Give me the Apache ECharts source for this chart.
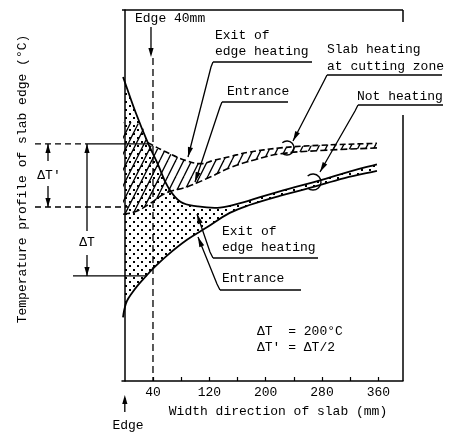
<!DOCTYPE html>
<html><head><meta charset="utf-8">
<script src="https://cdn.jsdelivr.net/npm/echarts@6/dist/echarts.min.js"></script>
<style>html,body{margin:0;padding:0;background:#fff}#c{width:456px;height:432px}</style>
</head><body><div id="c"></div>
<script>
const FONT = '13px "Liberation Mono", "DejaVu Sans Mono", monospace';
// axis ticks / labels (mm)
const xTickValues = [40, 80, 120, 160, 200, 240, 280, 320, 360];
const xLabelValues = [40, 120, 200, 280, 360];
// Not heating: entrance and exit of edge heating (relative °C)
const entranceNoHeat = [[-2.6,97],[-0.45,110],[3.1,122],[10.2,134],[18.7,146],[28.7,158],[40,171],[59.9,191],[88.3,215],[116.6,234],[149,256],[177,268],[220,282],[262.6,294],[312,309],[358,320]];
const exitNoHeat = [[-2.5,463],[15,410],[32.6,363],[47,330],[61,296],[79,273],[103,266],[135,264],[168,272],[192,280],[234,293],[276,305],[319,319],[358,330]];
// Slab heating at cutting zone: exit and entrance
const exitSlabHeat = [[-2.5,394],[22.7,390],[32.6,363],[58,349],[86,336],[108,331],[126,336],[150,342],[174,348],[221,355],[278,359],[358,362]];
const entranceSlabHeat = [[-2.5,254],[15.6,258],[34,269],[58,286],[89,296],[122,311],[150,325],[185,337],[221,346],[278,351],[358,355]];
// ΔT reference levels: top, ΔT' bottom, ΔT bottom
const deltaLevels = [361, 265, 160];
const edgeMarkMm = 40;

function makePattern(kind) {
  const c = document.createElement('canvas');
  if (kind === 'dots') {
    c.width = 8; c.height = 8;
    const g = c.getContext('2d');
    g.fillStyle = '#000';
    g.fillRect(1, 1, 2, 2);
    g.fillRect(5, 5, 2, 2);
  } else {
    c.width = 8; c.height = 16;
    const g = c.getContext('2d');
    g.strokeStyle = '#000'; g.lineWidth = 1.3;
    for (const off of [-8, 0, 8]) {
      g.beginPath(); g.moveTo(off, 16); g.lineTo(off + 8, 0); g.stroke();
    }
  }
  return { image: c, repeat: 'repeat' };
}
const dotPattern = makePattern('dots');
const hatchPattern = makePattern('hatch');

function splinePath(pts, s) {
  const n = pts.length;
  const cps = pts.map((p, i) => {
    const prev = pts[Math.max(i - 1, 0)], next = pts[Math.min(i + 1, n - 1)];
    const vx = next[0] - prev[0], vy = next[1] - prev[1];
    const d0 = Math.hypot(p[0] - prev[0], p[1] - prev[1]);
    const d1 = Math.hypot(next[0] - p[0], next[1] - p[1]);
    const sum = (d0 + d1) || 1;
    return { inp: [p[0] - vx * s * d0 / sum, p[1] - vy * s * d0 / sum],
             out: [p[0] + vx * s * d1 / sum, p[1] + vy * s * d1 / sum] };
  });
  let d = 'M' + pts[0][0] + ' ' + pts[0][1];
  for (let i = 1; i < n; i++) {
    const a = cps[i - 1].out, b = cps[i].inp, p = pts[i];
    d += ' C' + a[0] + ' ' + a[1] + ' ' + b[0] + ' ' + b[1] + ' ' + p[0] + ' ' + p[1];
  }
  return d;
}
const S = 0.4;
function bandItem(lower, upper, fill, lowerStyle, upperStyle, upperStart) {
  return function (params, api) {
    const a = lower.map(p => api.coord(p));
    const b = upper.map(p => api.coord(p));
    const area = splinePath(a, S) + ' ' + splinePath(b.slice().reverse(), S).replace('M', 'L') + ' Z';
    return { type: 'group', children: [
      { type: 'path', shape: { pathData: area }, style: { fill: fill, stroke: 'none' } },
      { type: 'path', shape: { pathData: splinePath(a, S) }, style: Object.assign({ fill: 'none', stroke: '#000' }, lowerStyle) },
      { type: 'path', shape: { pathData: splinePath(b.slice(upperStart || 0), S) }, style: Object.assign({ fill: 'none', stroke: '#000' }, upperStyle) }
    ]};
  };
}
// x (mm) where a curve crosses a given level (linear between read points)
function crossX(curve, level) {
  for (let i = 1; i < curve.length; i++) {
    const [x1, y1] = curve[i - 1], [x2, y2] = curve[i];
    if ((y1 - level) * (y2 - level) <= 0 && y1 !== y2) return x1 + (level - y1) * (x2 - x1) / (y2 - y1);
  }
  return curve[0][0];
}

const chart = echarts.init(document.getElementById('c'), null, { renderer: 'canvas' });
chart.setOption({
  animation: false,
  backgroundColor: '#fff',
  grid: { left: 122, right: 53, top: 10, bottom: 51 },
  xAxis: {
    type: 'value', min: -4, max: 395,
    axisLine: { lineStyle: { color: '#000', width: 1.5 } },
    axisTick: { show: true, inside: true, length: 4, customValues: xTickValues, lineStyle: { color: '#000', width: 1.2 } },
    axisLabel: { customValues: xLabelValues, color: '#000', fontFamily: '"Liberation Mono", monospace', fontSize: 13, margin: 5 },
    splitLine: { show: false }
  },
  yAxis: {
    type: 'value', min: 0, max: 565,
    axisLine: { show: true, lineStyle: { color: '#000', width: 1.5 } },
    axisTick: { show: false }, axisLabel: { show: false }, splitLine: { show: false }
  },
  series: [
    { type: 'custom', name: 'Not heating', coordinateSystem: 'cartesian2d', data: [[0, 0]], silent: true, z: 2,
      renderItem: bandItem(entranceNoHeat, exitNoHeat, dotPattern, { lineWidth: 1.8 }, { lineWidth: 1.8 }, 0) },
    { type: 'custom', name: 'Slab heating at cutting zone', coordinateSystem: 'cartesian2d', data: [[0, 0]], silent: true, z: 3,
      renderItem: bandItem(entranceSlabHeat, exitSlabHeat, hatchPattern, { lineWidth: 1.6, lineDash: [7, 3] }, { lineWidth: 1.6, lineDash: [6, 3] }, 2) }
  ]
});

const px = (x, y) => chart.convertToPixel({ gridIndex: 0 }, [x, y]);
const K = '#000';
function seg(p, q, dash, w) {
  return { type: 'line', silent: true, z: 20, shape: { x1: p[0], y1: p[1], x2: q[0], y2: q[1] },
           style: { stroke: K, lineWidth: w || 1.3, lineDash: dash || null } };
}
function poly(points, w) {
  return { type: 'polyline', silent: true, z: 20, shape: { points: points }, style: { stroke: K, lineWidth: w || 1.3, fill: 'none' } };
}
function head(tip, from, len, half) {
  len = len || 9; half = half || 2.6;
  const dx = tip[0] - from[0], dy = tip[1] - from[1], L = Math.hypot(dx, dy), ux = dx / L, uy = dy / L;
  const bx = tip[0] - ux * len, by = tip[1] - uy * len;
  return { type: 'polygon', silent: true, z: 21, shape: { points: [tip, [bx - uy * half, by + ux * half], [bx + uy * half, by - ux * half]] }, style: { fill: K } };
}
function txt(s, x, y, align, rot) {
  return { type: 'text', silent: true, z: 22, x: x, y: y, rotation: rot || 0,
           style: { text: s, x: 0, y: 0, font: FONT, fill: K, textAlign: align || 'left', textVerticalAlign: 'middle' } };
}
function leader(pts) {
  return [poly(pts, 1.3), head(pts[pts.length - 1], pts[pts.length - 2], 10, 2.6)];
}

const tl = px(-4, 565), br = px(395, 0);
const yTop = px(0, deltaLevels[0])[1], yMid = px(0, deltaLevels[1])[1], yBot = px(0, deltaLevels[2])[1];
const xTopEnd = px(crossX(exitNoHeat, deltaLevels[0]), 0)[0];
const xBotEnd = px(crossX(entranceNoHeat, deltaLevels[2]), 0)[0];
const xe = px(edgeMarkMm, 0)[0], x0 = px(0, 0)[0];

const els = [
  // frame
  seg([tl[0], tl[1]], [br[0], tl[1]], null, 1.5),
  seg([br[0], tl[1]], [br[0], tl[1] + 12], null, 1.5),
  seg([br[0], 115], [br[0], br[1]], null, 1.5),
  // ΔT reference levels
  seg([35, yTop], [85, yTop], [6, 4]), seg([85, yTop], [xTopEnd, yTop]),
  seg([35, yMid], [128, yMid], [6, 4]),
  seg([73, yBot], [xBotEnd, yBot]),
  // ΔT' arrow
  seg([48, yTop], [48, yTop + 17]), head([48, yTop], [48, yTop + 10]),
  seg([48, yMid - 21], [48, yMid]), head([48, yMid], [48, yMid - 10]),
  txt("ΔT'", 49, 176, 'center'),
  // ΔT arrow
  seg([87, yTop], [87, 231]), head([87, yTop], [87, yTop + 10]),
  seg([87, 255], [87, yBot]), head([87, yBot], [87, yBot - 10]),
  txt('ΔT', 87, 243, 'center'),
  // edge 40 mm marker
  txt('Edge 40mm', 135, 19),
  seg([xe - 2, 27], [xe - 2, 50]), head([xe - 2, 57], [xe - 2, 45]),
  seg([xe, 58], [xe, br[1]], [7, 4], 1.3),
  // bottom edge marker
  seg([x0, 398], [x0, 412]), head([x0, 395], [x0, 405]),
  txt('Edge', 128, 426, 'center'),
  // axis names
  txt('Width direction of slab (mm)', 278, 412, 'center'),
  txt('Temperature profile of slab edge (°C)', 23, 179, 'center', Math.PI / 2),
  // upper labels
  txt('Exit of', 215, 36), txt('edge heating', 215, 52), seg([213, 62], [312, 62]),
  txt('Entrance', 227, 92), seg([222, 102], [288, 102]),
  txt('Slab heating', 327, 50), txt('at cutting zone', 327, 67), seg([327, 75], [442, 75]),
  txt('Not heating', 357, 97), seg([358, 105], [443, 105]),
  // lower labels
  txt('Exit of', 222, 232), txt('edge heating', 222, 248), seg([213, 258], [318, 258]),
  txt('Entrance', 222, 279), seg([220, 290], [301, 290]),
  txt('ΔT  = 200°C', 257, 332), txt("ΔT' = ΔT/2", 257, 348),
  // arcs marking the bands
  { type: 'arc', silent: true, z: 20, shape: { cx: 287, cy: 148, r: 7, startAngle: -2.3, endAngle: 2.3, clockwise: true }, style: { stroke: K, lineWidth: 1.4, fill: 'none' } },
  { type: 'arc', silent: true, z: 20, shape: { cx: 313, cy: 182, r: 8, startAngle: -2.3, endAngle: 2.3, clockwise: true }, style: { stroke: K, lineWidth: 1.4, fill: 'none' } }
].concat(
  leader([[213, 62], [211, 67], [188, 157]]),
  leader([[222, 102], [220, 107], [195, 182]]),
  leader([[327, 75], [324, 81], [293, 141]]),
  leader([[358, 105], [355, 111], [320, 172]]),
  leader([[213, 258], [210, 252], [197, 214]]),
  leader([[220, 290], [217, 284], [198, 237]])
);
chart.setOption({ graphic: { elements: els } });
</script></body></html>
